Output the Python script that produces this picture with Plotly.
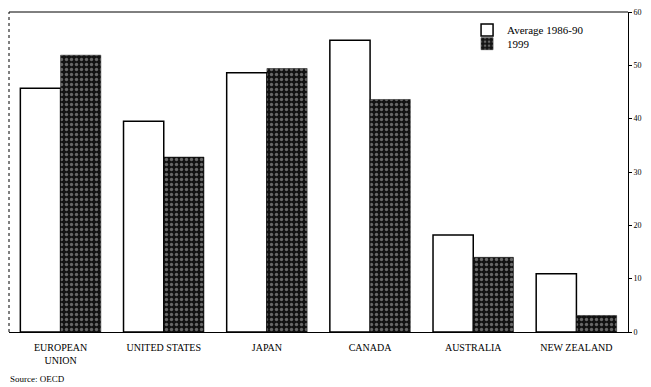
import plotly.graph_objects as go

categories = ["EUROPEAN<br>UNION", "UNITED STATES", "JAPAN", "CANADA", "AUSTRALIA", "NEW ZEALAND"]
avg_1986_90 = [45.7, 39.5, 48.6, 54.7, 18.2, 10.9]
y1999 = [51.9, 32.8, 49.4, 43.6, 14.0, 3.1]
y_ticks = [0, 10, 20, 30, 40, 50, 60]

FONT = "Liberation Serif"

fig = go.Figure()
fig.add_trace(go.Bar(
    x=categories, y=avg_1986_90, name="Average 1986-90",
    marker=dict(color="white", line=dict(color="black", width=1.5)),
    legend="legend",
))
fig.add_trace(go.Bar(
    x=categories, y=y1999, name="1999",
    marker=dict(color="#1a1a1a", line=dict(color="#111111", width=0.5),
                pattern=dict(shape=".", fgcolor="#bdbdbd", bgcolor="#121212",
                             size=5, solidity=0.35)),
    legend="legend2",
))

leg_common = dict(xanchor="left", yanchor="middle",
                  font=dict(size=11, family=FONT), bgcolor="rgba(0,0,0,0)",
                  itemwidth=30)

fig.update_layout(
    width=651, height=387,
    margin=dict(l=1, r=31, t=4, b=63),
    paper_bgcolor="white", plot_bgcolor="white",
    barmode="group", bargap=0.22, bargroupgap=0,
    font=dict(family=FONT, size=10, color="black"),
    showlegend=True,
    legend=dict(x=0.74, y=0.944, **leg_common),
    legend2=dict(x=0.74, y=0.901, **leg_common),
    xaxis=dict(showgrid=False, showline=True, linecolor="black", linewidth=1,
               ticks="", tickfont=dict(size=10, family=FONT),
               ticklabelstandoff=6, fixedrange=True),
    yaxis=dict(range=[0, 60], side="right", tickvals=y_ticks,
               ticktext=[str(v) for v in y_ticks],
               ticklabeloverflow="allow",
               showgrid=False, zeroline=False, showline=True,
               linecolor="black", linewidth=1,
               ticks="outside", ticklen=3, tickcolor="black",
               tickfont=dict(size=8, family=FONT, color="black")),
    shapes=[
        dict(type="line", xref="paper", yref="paper", x0=0, x1=1, y0=1, y1=1,
             line=dict(color="black", width=1)),
        dict(type="line", xref="paper", yref="paper", x0=0, x1=0, y0=0, y1=1,
             line=dict(color="black", width=1, dash="dot")),
    ],
    annotations=[
        dict(text="Source: OECD", xref="paper", yref="paper", x=-0.0016, y=-0.148,
             xanchor="left", yanchor="middle", showarrow=False,
             font=dict(size=9, family=FONT)),
    ],
)

fig.write_html("out.html")
